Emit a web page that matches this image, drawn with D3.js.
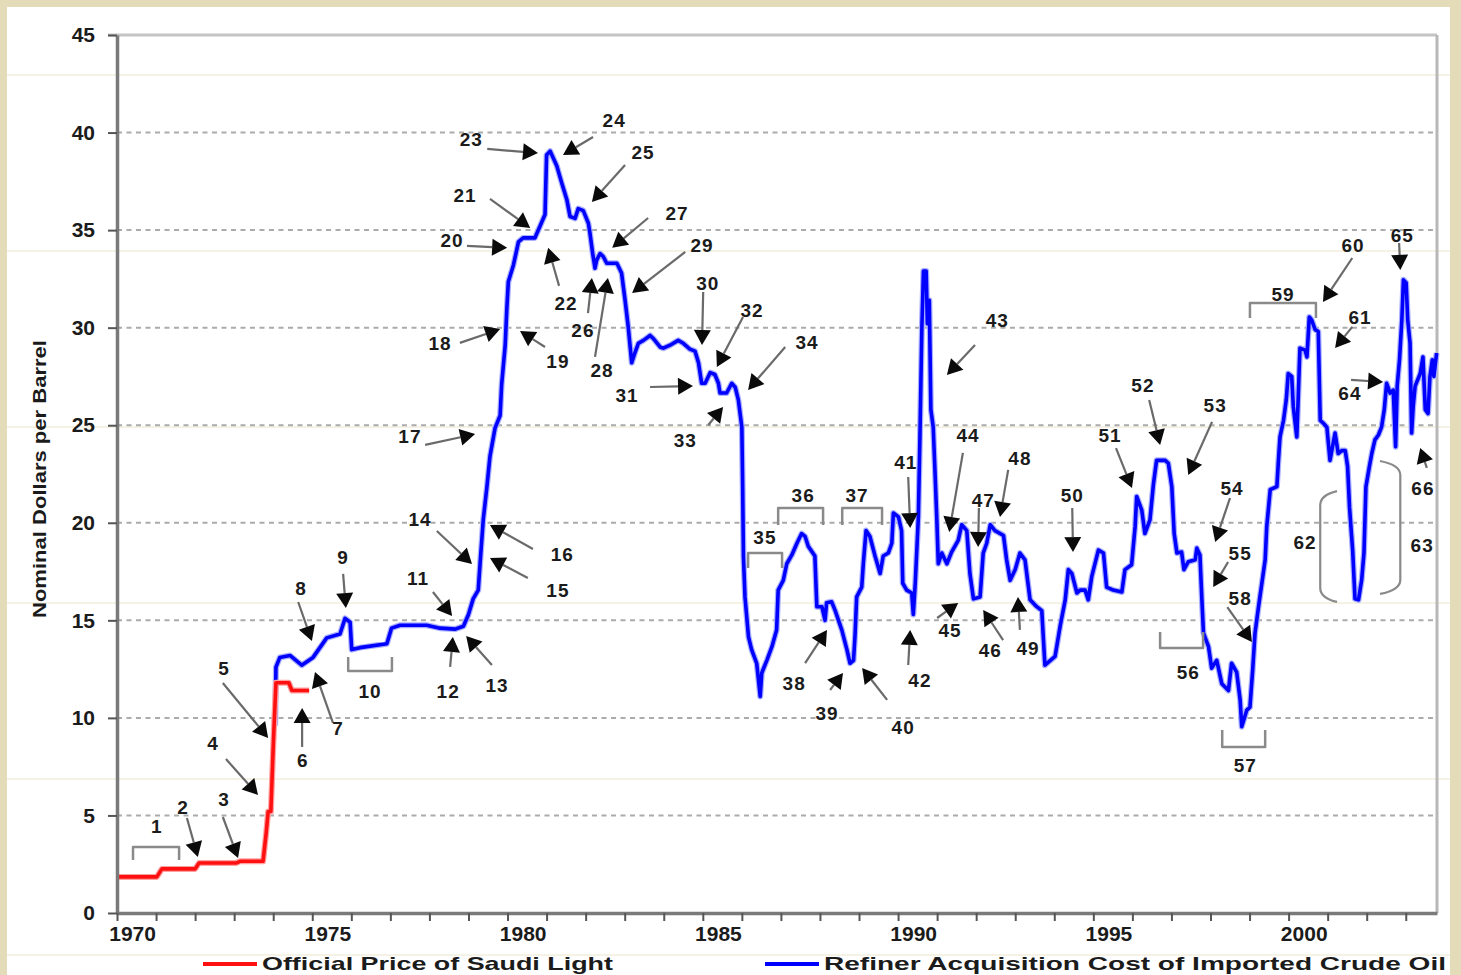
<!DOCTYPE html>
<html>
<head>
<meta charset="utf-8">
<script src="https://cdn.jsdelivr.net/npm/d3@7"></script>
<style>
  html, body { margin: 0; padding: 0; background: #e4dcb8; }
  svg { display: block; }
  text { font-family: "Liberation Sans", Arial, sans-serif; font-weight: bold; fill: #1b1b1b; }
</style>
</head>
<body>
<svg id="chart" width="1461" height="975"></svg>
<script>
// official price of Saudi Light
var saudiYears = [1970.00, 1971.02, 1971.15, 1972.00, 1972.10, 1973.05, 1973.15, 1973.74, 1973.82,
                  1973.87, 1973.94, 1974.00, 1974.02, 1974.07, 1974.40, 1974.48, 1974.92];
var saudiPrices = [1.85, 1.85, 2.26, 2.26, 2.56, 2.56, 2.65, 2.65, 4.1,
                   5.2, 5.2, 8.5, 9.5, 11.8, 11.8, 11.4, 11.4];

// refiner acquisition cost of imported crude
var racYears = [
  1974.05, 1974.07, 1974.17, 1974.43, 1974.73, 1975.02, 1975.37, 1975.71, 1975.84, 1975.97,
  1976.01, 1976.22, 1976.91, 1977.03, 1977.25, 1977.93, 1978.27, 1978.66, 1978.87, 1979.00,
  1979.12, 1979.25, 1979.30, 1979.38, 1979.47, 1979.55, 1979.68, 1979.81, 1979.85, 1979.94,
  1979.98, 1980.02, 1980.15, 1980.28, 1980.40, 1980.70, 1980.83, 1980.96, 1981.00, 1981.09,
  1981.26, 1981.39, 1981.52, 1981.60, 1981.73, 1981.81, 1981.94, 1982.07, 1982.11, 1982.18,
  1982.24, 1982.28, 1982.37, 1982.45, 1982.54, 1982.80, 1982.92, 1983.01, 1983.09, 1983.18,
  1983.26, 1983.35, 1983.48, 1983.65, 1983.73, 1983.91, 1983.99, 1984.16, 1984.37, 1984.50,
  1984.67, 1984.80, 1984.89, 1984.97, 1985.06, 1985.19, 1985.31, 1985.40, 1985.44, 1985.61,
  1985.74, 1985.83, 1985.91, 1986.00, 1986.02, 1986.04, 1986.08, 1986.17, 1986.25, 1986.38,
  1986.47, 1986.51, 1986.64, 1986.77, 1986.89, 1986.93, 1987.06, 1987.15, 1987.28, 1987.41,
  1987.53, 1987.62, 1987.70, 1987.87, 1987.92, 1988.05, 1988.13, 1988.17, 1988.30, 1988.39,
  1988.56, 1988.69, 1988.77, 1988.86, 1988.90, 1988.94, 1989.07, 1989.11, 1989.18, 1989.28,
  1989.41, 1989.54, 1989.62, 1989.75, 1989.84, 1989.88, 1990.01, 1990.09, 1990.12, 1990.22,
  1990.35, 1990.39, 1990.44, 1990.52, 1990.56, 1990.61, 1990.65, 1990.72, 1990.75, 1990.80,
  1990.84, 1990.90, 1990.95, 1990.99, 1991.03, 1991.12, 1991.25, 1991.37, 1991.54, 1991.63,
  1991.76, 1991.84, 1991.93, 1992.10, 1992.18, 1992.27, 1992.36, 1992.48, 1992.70, 1992.78,
  1992.87, 1993.00, 1993.12, 1993.25, 1993.38, 1993.55, 1993.68, 1993.76, 1994.02, 1994.15,
  1994.28, 1994.36, 1994.45, 1994.58, 1994.66, 1994.79, 1994.87, 1994.96, 1995.13, 1995.26,
  1995.34, 1995.51, 1995.73, 1995.81, 1995.98, 1996.07, 1996.11, 1996.24, 1996.32, 1996.45,
  1996.54, 1996.62, 1996.84, 1996.92, 1997.01, 1997.07, 1997.14, 1997.26, 1997.32, 1997.43,
  1997.61, 1997.65, 1997.73, 1997.78, 1997.82, 1997.95, 1998.03, 1998.16, 1998.29, 1998.46,
  1998.54, 1998.67, 1998.76, 1998.80, 1998.93, 1999.01, 1999.08, 1999.14, 1999.23, 1999.40,
  1999.44, 1999.53, 1999.70, 1999.74, 1999.78, 1999.87, 1999.94, 1999.99, 2000.08, 2000.12,
  2000.21, 2000.25, 2000.29, 2000.42, 2000.47, 2000.53, 2000.59, 2000.68, 2000.76, 2000.81,
  2000.89, 2000.98, 2001.06, 2001.19, 2001.27, 2001.36, 2001.45, 2001.51, 2001.56, 2001.64,
  2001.70, 2001.79, 2001.87, 2001.93, 2001.98, 2002.07, 2002.13, 2002.21, 2002.30, 2002.38,
  2002.45, 2002.51, 2002.60, 2002.68, 2002.74, 2002.78, 2002.84, 2002.90, 2002.94, 2003.01,
  2003.05, 2003.11, 2003.15, 2003.19, 2003.24, 2003.37, 2003.44, 2003.50, 2003.57, 2003.62,
  2003.68, 2003.72, 2003.79];
var racPrices = [
  9.6, 12.6, 13.1, 13.2, 12.7, 13.1, 14.1, 14.3, 15.1, 14.9,
  13.5, 13.6, 13.8, 14.6, 14.75, 14.75, 14.6, 14.55, 14.7, 15.3,
  16.1, 16.55, 18.0, 20.2, 21.8, 23.4, 24.85, 25.5, 27.1, 29.1,
  30.9, 32.35, 33.2, 34.4, 34.6, 34.6, 35.2, 35.8, 38.85, 39.05,
  38.3, 37.4, 36.55, 35.7, 35.6, 36.1, 36.0, 35.35, 34.85, 33.8,
  33.05, 33.45, 33.8, 33.65, 33.3, 33.3, 32.8, 31.4, 30.05, 28.2,
  28.7, 29.2, 29.35, 29.6, 29.45, 29.0, 28.95, 29.1, 29.35, 29.2,
  28.9, 28.8, 28.2, 27.15, 27.15, 27.7, 27.6, 27.15, 26.65, 26.65,
  27.15, 26.95, 26.3, 24.9, 22.0, 18.3, 16.2, 14.15, 13.5, 12.8,
  11.1, 12.3, 12.95, 13.65, 14.5, 16.55, 17.05, 17.9, 18.35, 18.95,
  19.45, 19.3, 18.8, 18.3, 15.7, 15.7, 15.0, 15.9, 15.95, 15.5,
  14.5, 13.5, 12.8, 12.95, 14.3, 16.2, 16.7, 17.9, 19.6, 19.3,
  18.3, 17.4, 18.3, 18.45, 18.95, 20.5, 20.3, 19.6, 16.9, 16.55,
  16.4, 15.3, 16.9, 20.3, 24.4, 30.05, 32.9, 32.9, 30.2, 31.4,
  25.8, 24.9, 22.4, 20.3, 17.9, 18.45, 17.9, 18.5, 19.1, 19.9,
  19.6, 17.4, 16.1, 16.2, 18.45, 18.95, 19.9, 19.6, 19.35, 18.1,
  17.05, 17.6, 18.45, 18.1, 16.05, 15.7, 15.5, 12.7, 13.15, 14.7,
  16.05, 17.6, 17.4, 16.4, 16.55, 16.55, 16.05, 17.25, 18.6, 18.45,
  16.7, 16.55, 16.45, 17.6, 17.85, 19.8, 21.35, 20.65, 19.45, 20.15,
  22.0, 23.2, 23.2, 23.05, 21.85, 19.45, 18.45, 18.5, 17.6, 18.0,
  18.1, 18.7, 18.35, 16.05, 14.35, 13.65, 12.55, 12.95, 11.75, 11.4,
  12.8, 12.35, 10.9, 9.55, 10.4, 10.55, 12.45, 14.35, 15.7, 18.1,
  19.8, 21.7, 21.85, 23.2, 24.4, 25.25, 26.3, 27.65, 27.5, 25.95,
  24.4, 26.6, 28.95, 28.85, 28.5, 30.55, 30.4, 29.9, 29.8, 25.25,
  25.1, 24.9, 23.2, 24.6, 23.55, 23.7, 23.7, 22.9, 20.8, 18.6,
  16.1, 16.05, 17.05, 18.45, 21.85, 22.9, 23.55, 24.25, 24.5, 24.9,
  25.8, 27.15, 26.65, 26.8, 23.9, 27.0, 28.35, 30.4, 32.45, 32.3,
  30.4, 29.2, 24.6, 25.95, 27.0, 27.65, 28.5, 25.8, 25.6, 27.5,
  28.35, 27.5, 28.7];

var priceTicks = [0, 5, 10, 15, 20, 25, 30, 35, 40, 45];
var yearTicks = d3.range(1970, 2004);
var yearLabels = [1970, 1975, 1980, 1985, 1990, 1995, 2000];
var seriesNames = ["Official Price of Saudi Light", "Refiner Acquisition Cost of Imported Crude Oil"];
var axisTitle = "Nominal Dollars per Barrel";

// numbered arrows: label, label (year, $), tail (year, $), head (year, $)
var arrowNotes = [
  ["2", 1971.69, 5.43, 1971.79, 4.87, 1972.07, 2.87],
  ["3", 1972.74, 5.84, 1972.71, 4.92, 1973.10, 2.82],
  ["4", 1972.46, 8.71, 1972.79, 7.89, 1973.61, 6.05],
  ["5", 1972.74, 12.56, 1972.71, 11.79, 1973.87, 8.97],
  ["6", 1974.76, 7.84, 1974.74, 8.51, 1974.74, 10.51],
  ["7", 1975.66, 9.48, 1975.53, 9.74, 1975.07, 12.35],
  ["8", 1974.71, 16.66, 1974.64, 15.94, 1974.99, 13.94],
  ["9", 1975.79, 18.25, 1975.79, 17.38, 1975.86, 15.63],
  ["11", 1977.71, 17.17, 1978.09, 16.45, 1978.58, 15.22],
  ["12", 1978.48, 11.38, 1978.53, 12.61, 1978.60, 14.15],
  ["13", 1979.73, 11.69, 1979.60, 12.71, 1978.94, 14.20],
  ["14", 1977.76, 20.19, 1978.19, 19.58, 1979.09, 17.89],
  ["15", 1981.29, 16.56, 1980.52, 17.17, 1979.55, 18.20],
  ["16", 1981.40, 18.40, 1980.65, 18.66, 1979.55, 19.89],
  ["17", 1977.50, 24.45, 1977.89, 23.99, 1979.17, 24.55],
  ["18", 1978.27, 29.22, 1978.78, 29.22, 1979.81, 29.93],
  ["19", 1981.29, 28.29, 1980.96, 29.01, 1980.32, 29.83],
  ["20", 1978.58, 34.50, 1978.96, 34.19, 1979.99, 34.09],
  ["21", 1978.91, 36.80, 1979.55, 36.60, 1980.58, 35.11],
  ["22", 1981.50, 31.27, 1981.32, 32.14, 1981.04, 34.09],
  ["23", 1979.07, 39.67, 1979.48, 39.16, 1980.78, 38.95],
  ["24", 1982.73, 40.65, 1982.19, 39.77, 1981.42, 38.85],
  ["25", 1983.47, 39.01, 1983.01, 38.34, 1982.16, 36.44],
  ["26", 1981.93, 29.88, 1982.06, 30.75, 1982.16, 32.55],
  ["27", 1984.34, 35.88, 1983.60, 35.62, 1982.68, 34.09],
  ["28", 1982.42, 27.83, 1982.24, 28.50, 1982.57, 32.55],
  ["29", 1984.98, 34.24, 1984.55, 33.88, 1983.19, 31.78],
  ["30", 1985.13, 32.29, 1985.01, 31.83, 1984.98, 29.11],
  ["31", 1983.06, 26.55, 1983.65, 26.96, 1984.75, 27.01],
  ["32", 1986.26, 30.91, 1986.03, 30.55, 1985.36, 27.99],
  ["33", 1984.55, 24.24, 1985.14, 25.01, 1985.52, 25.94],
  ["34", 1987.67, 29.27, 1987.11, 29.01, 1986.16, 26.81],
  ["38", 1987.34, 11.79, 1987.62, 12.81, 1988.18, 14.51],
  ["39", 1988.18, 10.25, 1988.26, 11.43, 1988.59, 12.30],
  ["40", 1990.13, 9.53, 1989.72, 10.92, 1989.08, 12.56],
  ["41", 1990.20, 23.12, 1990.26, 22.35, 1990.31, 19.73],
  ["42", 1990.56, 11.94, 1990.26, 12.71, 1990.31, 14.51],
  ["43", 1992.54, 30.39, 1991.97, 29.11, 1991.25, 27.58],
  ["44", 1991.79, 24.50, 1991.66, 23.58, 1991.31, 19.53],
  ["45", 1991.33, 14.51, 1991.00, 15.12, 1991.54, 15.89],
  ["46", 1992.36, 13.48, 1992.69, 13.99, 1992.18, 15.53],
  ["47", 1992.18, 21.17, 1992.07, 20.76, 1992.05, 18.76],
  ["48", 1993.12, 23.32, 1992.82, 22.71, 1992.61, 20.30],
  ["49", 1993.33, 13.58, 1993.12, 14.51, 1993.07, 16.20],
  ["50", 1994.46, 21.42, 1994.46, 20.76, 1994.48, 18.50],
  ["51", 1995.43, 24.50, 1995.58, 23.83, 1995.99, 21.78],
  ["52", 1996.27, 27.06, 1996.43, 26.29, 1996.71, 23.99],
  ["53", 1998.12, 26.04, 1998.04, 25.17, 1997.43, 22.45],
  ["54", 1998.55, 21.78, 1998.50, 21.27, 1998.12, 19.02],
  ["55", 1998.76, 18.45, 1998.45, 17.99, 1998.07, 16.71],
  ["58", 1998.76, 16.15, 1998.43, 15.68, 1999.06, 13.89],
  ["60", 2001.65, 34.24, 2001.63, 33.57, 2000.88, 31.32],
  ["61", 2001.83, 30.55, 2001.63, 30.04, 2001.19, 28.96],
  ["64", 2001.57, 26.65, 2001.60, 27.32, 2002.42, 27.22],
  ["65", 2002.91, 34.75, 2002.83, 34.34, 2002.86, 32.96],
  ["66", 2003.44, 21.78, 2003.54, 22.81, 2003.37, 23.83]
];

// period brackets: label, label (year, $), from year, to year, bar $, leg-end $
var bracketNotes = [
  ["1", 1971.02, 4.46, 1970.41, 1971.59, 3.38, 2.72],
  ["10", 1976.48, 11.38, 1975.92, 1977.04, 12.40, 13.12],
  ["35", 1986.59, 19.27, 1986.16, 1987.03, 18.45, 17.68],
  ["36", 1987.57, 21.42, 1986.93, 1988.08, 20.76, 19.89],
  ["37", 1988.95, 21.42, 1988.57, 1989.59, 20.76, 19.89],
  ["56", 1997.43, 12.35, 1996.71, 1997.81, 13.58, 14.40],
  ["57", 1998.89, 7.59, 1998.30, 1999.40, 8.51, 9.38],
  ["59", 1999.86, 31.73, 1999.01, 2000.70, 31.27, 30.50]
];

// tall side brackets: label, label (year, $), bar year, end year, top $, bottom $
var braceNotes = [
  ["62", 2000.42, 19.02, 2000.81, 2001.24, 21.42, 16.15],
  ["63", 2003.42, 18.86, 2002.86, 2002.34, 22.96, 16.56]
];

var W = 1461, H = 975;
var plotL = 117, plotR = 1437, plotT = 35, plotB = 913;

var svg = d3.select("#chart");

var x = d3.scaleLinear().domain([1970, 2003.8]).range([plotL, plotR]);
var y = d3.scaleLinear().domain([0, 45]).range([plotB, plotT]);

// paper background and white sheet
svg.append("rect").attr("width", W).attr("height", H).attr("fill", "#e4dcb8");
svg.append("rect").attr("x", 7).attr("y", 7).attr("width", 1443).attr("height", H - 7).attr("fill", "#ffffff");
for (var sy = 75; sy < H; sy += 176) {
    svg.append("line").attr("x1", 7).attr("x2", 1450).attr("y1", sy).attr("y2", sy)
        .attr("stroke", "#ebe5cc").attr("stroke-width", 1);
}

// dashed gridlines
svg.append("g").selectAll("line")
    .data(priceTicks.filter(function(d){ return d > 0 && d < 45; }))
    .enter().append("line")
    .attr("x1", plotL).attr("x2", plotR)
    .attr("y1", function(d){ return y(d); }).attr("y2", function(d){ return y(d); })
    .attr("stroke", "#ababab").attr("stroke-width", 2).attr("stroke-dasharray", "5,4.5");

// top and right frame
svg.append("line").attr("x1", plotL - 9).attr("x2", plotR).attr("y1", y(45)).attr("y2", y(45))
    .attr("stroke", "#c4c4c4").attr("stroke-width", 3);
svg.append("line").attr("x1", plotR).attr("x2", plotR).attr("y1", y(45)).attr("y2", plotB)
    .attr("stroke", "#b8b8b8").attr("stroke-width", 3);

// lines (a pale wider stroke underneath mimics the soft edge of the original)
var line = d3.line()
    .x(function(d){ return x(d[0]); })
    .y(function(d){ return y(d[1]); });

var racPath = line(d3.zip(racYears, racPrices));
var saudiPath = line(d3.zip(saudiYears, saudiPrices));

svg.append("path").attr("d", racPath)
    .attr("fill", "none").attr("stroke", "#aab0ff").attr("stroke-width", 6)
    .attr("stroke-linejoin", "round");
svg.append("path").attr("d", racPath)
    .attr("fill", "none").attr("stroke", "#0000ff").attr("stroke-width", 3.6)
    .attr("stroke-linejoin", "round");
svg.append("path").attr("d", saudiPath)
    .attr("fill", "none").attr("stroke", "#ffa0a0").attr("stroke-width", 6)
    .attr("stroke-linejoin", "round");
svg.append("path").attr("d", saudiPath)
    .attr("fill", "none").attr("stroke", "#ff1010").attr("stroke-width", 3.6)
    .attr("stroke-linejoin", "round");

// annotations
var notes = svg.append("g");

function noteLabel(t, yr, v) {
    notes.append("text")
        .attr("x", x(yr)).attr("y", y(v))
        .attr("text-anchor", "middle").attr("dy", "0.36em")
        .attr("font-size", 19).attr("letter-spacing", 1)
        .text(t);
}

arrowNotes.forEach(function(a) {
    var tx = x(a[3]), ty = y(a[4]), hx = x(a[5]), hy = y(a[6]);
    var dx = hx - tx, dy = hy - ty, len = Math.sqrt(dx * dx + dy * dy);
    var ux = dx / len, uy = dy / len;
    var hl = Math.min(15, len * 0.7), hw = 8.5;
    var bx = hx - ux * hl, by = hy - uy * hl;
    notes.append("line")
        .attr("x1", tx).attr("y1", ty).attr("x2", bx).attr("y2", by)
        .attr("stroke", "#6a6a6a").attr("stroke-width", 2.2);
    notes.append("path")
        .attr("d", "M" + hx + "," + hy + "L" + (bx - uy * hw) + "," + (by + ux * hw) +
                   "L" + (bx + uy * hw) + "," + (by - ux * hw) + "Z")
        .attr("fill", "#0a0a0a");
    noteLabel(a[0], a[1], a[2]);
});

bracketNotes.forEach(function(b) {
    var x0 = x(b[3]), x1 = x(b[4]), yb = y(b[5]), yl = y(b[6]);
    notes.append("path")
        .attr("d", "M" + x0 + "," + yl + "L" + x0 + "," + yb + "L" + x1 + "," + yb + "L" + x1 + "," + yl)
        .attr("fill", "none").attr("stroke", "#8a8a8a").attr("stroke-width", 2.5)
        .attr("stroke-linejoin", "round");
    noteLabel(b[0], b[1], b[2]);
});

braceNotes.forEach(function(b) {
    var xb = x(b[3]), xe = x(b[4]), y0 = y(b[5]), y1 = y(b[6]);
    notes.append("path")
        .attr("d", "M" + xe + "," + (y0 - 4) + "Q" + xb + "," + y0 + " " + xb + "," + (y0 + 10) +
                   "L" + xb + "," + (y1 - 10) + "Q" + xb + "," + y1 + " " + xe + "," + (y1 + 4))
        .attr("fill", "none").attr("stroke", "#8a8a8a").attr("stroke-width", 2.2);
    noteLabel(b[0], b[1], b[2]);
});

// axes
var yAxis = svg.append("g").attr("transform", "translate(" + plotL + ",0)")
    .call(d3.axisLeft(y).tickValues(priceTicks).tickSize(9).tickSizeOuter(0).tickPadding(13));
yAxis.select(".domain").attr("stroke", "#7a7a7a").attr("stroke-width", 3.5);
yAxis.selectAll(".tick line").attr("stroke", "#555").attr("stroke-width", 2);
yAxis.selectAll(".tick text").attr("font-size", 21).attr("font-family", null).attr("fill", "#1b1b1b");

var xAxis = svg.append("g").attr("transform", "translate(0," + plotB + ")")
    .call(d3.axisBottom(x).tickValues(yearTicks).tickSize(8).tickSizeOuter(0).tickFormat(""));
xAxis.select(".domain").attr("stroke", "#7a7a7a").attr("stroke-width", 3.5);
xAxis.selectAll(".tick line").attr("stroke", "#555").attr("stroke-width", 2);

svg.append("g").selectAll("text")
    .data(yearLabels)
    .enter().append("text")
    .attr("x", function(d){ return x(d + 0.4); })
    .attr("y", 941)
    .attr("text-anchor", "middle")
    .attr("font-size", 21)
    .text(function(d){ return d; });

svg.append("text")
    .attr("transform", "translate(46,479) rotate(-90)")
    .attr("text-anchor", "middle")
    .attr("font-size", 19)
    .attr("textLength", 278).attr("lengthAdjust", "spacingAndGlyphs")
    .text(axisTitle);

// legend
var legendColors = ["#ff1010", "#0000ff"];
var legendX = [203, 765];
var legendW = [351, 622];
seriesNames.forEach(function(name, i) {
    svg.append("line")
        .attr("x1", legendX[i]).attr("x2", legendX[i] + 54)
        .attr("y1", 964).attr("y2", 964)
        .attr("stroke", legendColors[i]).attr("stroke-width", 4);
    svg.append("text")
        .attr("x", legendX[i] + 59).attr("y", 970)
        .attr("font-size", 19)
        .attr("textLength", legendW[i]).attr("lengthAdjust", "spacingAndGlyphs")
        .text(name);
});
</script>
</body>
</html>
